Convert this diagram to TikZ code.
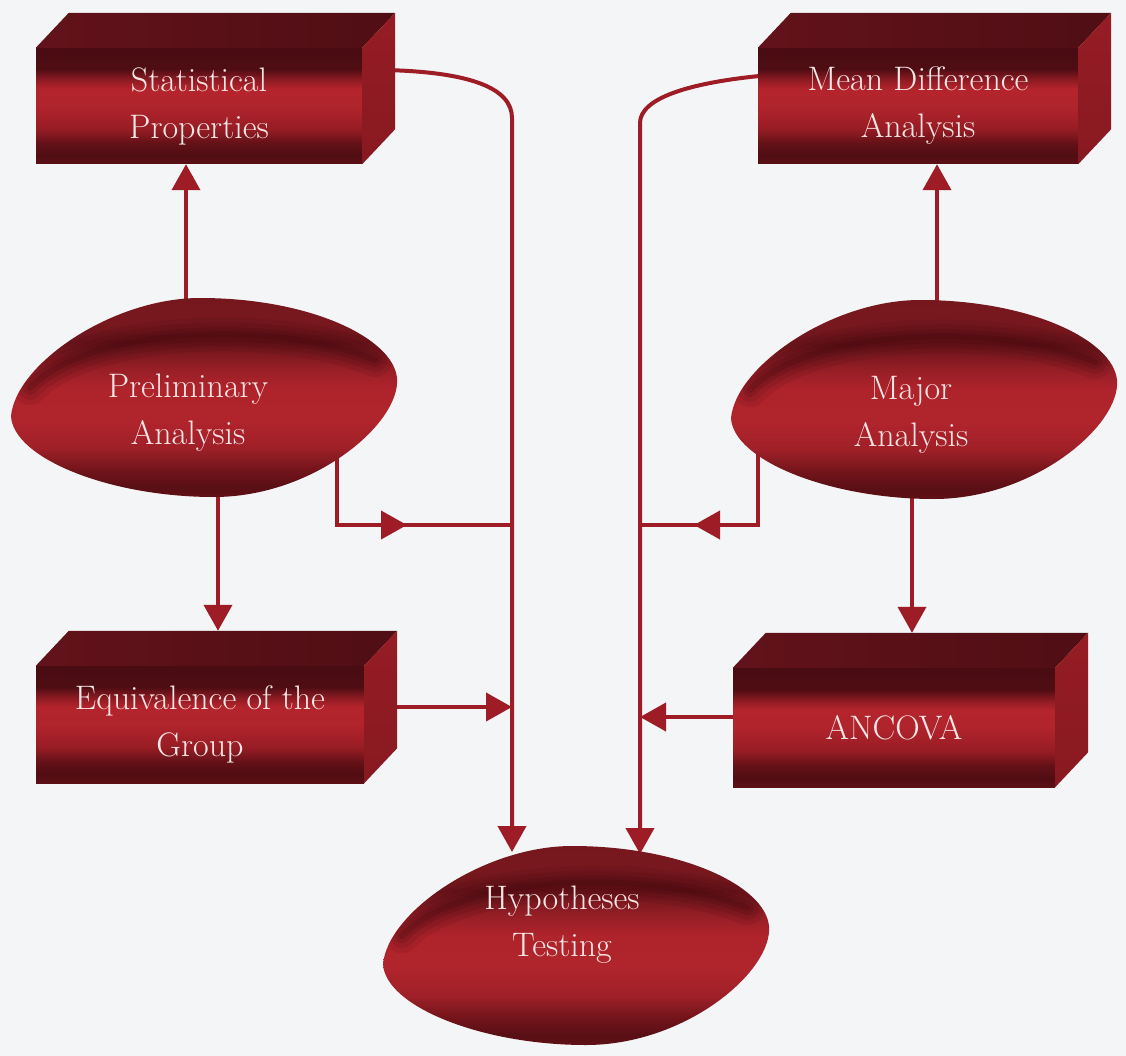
\documentclass[tikz,border=0pt]{standalone}
\usetikzlibrary{arrows.meta,decorations.markings}

% palette
\definecolor{paper}{RGB}{243,245,247}
\definecolor{wirecol}{RGB}{158,28,38}
\definecolor{labelcol}{RGB}{246,230,230}
\definecolor{topL}{RGB}{98,18,26}
\definecolor{topR}{RGB}{80,14,20}
\definecolor{sideT}{RGB}{150,28,36}
\definecolor{sideM}{RGB}{172,34,42}
\definecolor{sideB}{RGB}{136,25,32}
\definecolor{crescent}{RGB}{60,8,14}
% front face bands (top to bottom)
\definecolor{f0}{RGB}{72,12,18}
\definecolor{f1}{RGB}{78,13,19}
\definecolor{f2}{RGB}{140,26,34}
\definecolor{f3}{RGB}{180,36,44}
\definecolor{f4}{RGB}{176,36,44}
\definecolor{f5}{RGB}{165,32,40}
\definecolor{f6}{RGB}{150,28,36}
\definecolor{f7}{RGB}{100,17,23}
\definecolor{f8}{RGB}{80,13,19}
\definecolor{f9}{RGB}{92,16,22}
% lens bands (top to bottom)
\definecolor{e0}{RGB}{118,23,30}
\definecolor{e1}{RGB}{120,24,30}
\definecolor{e2}{RGB}{105,20,26}
\definecolor{e3}{RGB}{150,30,38}
\definecolor{e4}{RGB}{175,35,43}
\definecolor{e5}{RGB}{176,36,44}
\definecolor{e6}{RGB}{160,32,40}
\definecolor{e7}{RGB}{112,20,26}
\definecolor{e8}{RGB}{88,15,21}
\definecolor{e9}{RGB}{95,16,22}

\pgfdeclareverticalshading{frontface}{100bp}{%
  color(0bp)=(f9); color(25bp)=(f9); color(29bp)=(f8); color(34bp)=(f7);
  color(40bp)=(f6); color(45bp)=(f5); color(50bp)=(f4); color(57.5bp)=(f3);
  color(61.5bp)=(f2); color(66bp)=(f1); color(75bp)=(f0); color(100bp)=(f0)}
\pgfdeclareverticalshading{lensface}{100bp}{%
  color(0bp)=(e9); color(25bp)=(e9); color(27.5bp)=(e8); color(31.5bp)=(e7);
  color(37.5bp)=(e6); color(44bp)=(e5); color(52.5bp)=(e4); color(57.5bp)=(e3);
  color(64bp)=(e2); color(69bp)=(e1); color(75bp)=(e0); color(100bp)=(e0)}

\newcommand\lblfont{\fontsize{34}{47}\selectfont}

% top and right faces of a solid block whose front face is node #1
\newcommand\blocksides[1]{%
  \shade[left color=topL, right color=topR]
    (#1.north west) -- ([shift={(33,-35)}]#1.north west)
    -- ([shift={(33,-35)}]#1.north east) -- (#1.north east) -- cycle;
  \shade[top color=sideT, middle color=sideM, bottom color=sideB]
    (#1.north east) -- ([shift={(33,-35)}]#1.north east)
    -- ([shift={(33,-35)}]#1.south east) -- (#1.south east) -- cycle;
  \coordinate (#1-back) at ([shift={(33,-35)}]#1.north west);
}

% outline of a lens, drawn in the frame of the upper-left one
\newcommand\lensoutline{(11,416) .. controls +(5,-52) and +(-88,0) .. (200,298)
  .. controls +(110,0) and +(-4,-40) .. (397,378)
  .. controls +(4,45) and +(100,0) .. (214,497)
  .. controls +(-105,0) and +(2,42) .. (11,416) -- cycle}
% a shaded lens shifted by #1, with its soft dark crescent
\newcommand\drawlens[1]{%
  \begin{scope}[shift={#1}]
    \path[lensfill] \lensoutline;
    \begin{scope}
      \clip \lensoutline;
      \foreach \w/\o in {34/0.10,24/0.12,14/0.16,6/0.2}
        \draw[crescent, line width=\w pt, opacity=\o, line cap=round]
          (30,388) .. controls (90,325) and (280,320) .. (375,360);
    \end{scope}
  \end{scope}}

\pgfdeclarelayer{paperlayer}
\pgfdeclarelayer{wirelayer}
\pgfsetlayers{paperlayer,wirelayer,main}

\begin{document}
\begin{tikzpicture}[x=1pt,y=-1pt,
  front/.style={shade, shading=frontface, inner sep=0pt, align=center,
    text=labelcol, font=\lblfont},
  lenslabel/.style={inner sep=0pt, align=center, text=labelcol, font=\lblfont},
  lensfill/.style={shade, shading=lensface},
  wire/.style={color=wirecol, draw, line width=4pt},
  headend/.style={-{Triangle[length=26pt,width=28pt]}},
  midtip/.style={postaction={decorate}, decoration={markings,
    mark=at position #1 with {\arrow{Triangle[length=26pt,width=28pt]}}}},
]
\useasboundingbox (0,0) rectangle (1126,1056);
\begin{pgfonlayer}{paperlayer}
  \fill[paper] (0,0) rectangle (1126,1056);
\end{pgfonlayer}

% ---- blocks ----
\node[front, minimum width=326pt, minimum height=116pt] (stat) at (199,106)
  {Statistical\\Properties};
\blocksides{stat}
\node[front, minimum width=320pt, minimum height=116pt] (mdiff) at (918,106)
  {Mean Difference\\Analysis};
\blocksides{mdiff}
\node[front, minimum width=328pt, minimum height=117pt] (equiv) at (200,724.5)
  {Equivalence of the\\Group};
\blocksides{equiv}
\node[front, minimum width=322pt, minimum height=119pt] (ancova) at (894,727.5)
  {ANCOVA};
\blocksides{ancova}

% ---- lenses ----
\drawlens{(0,0)}
\node[lenslabel] (prelim) at (188,413) {Preliminary\\Analysis};
\drawlens{(720,2)}
\node[lenslabel] (major) at (911,415) {Major\\Analysis};
\drawlens{(372,548)}
\node[lenslabel] (hypo) at (562,925) {Hypotheses\\Testing};

% ---- connection points ----
\coordinate (prelim-up) at (186,340);
\coordinate (prelim-dn) at (218,470);
\coordinate (prelim-br) at (337,440);
\coordinate (major-up) at (937,340);
\coordinate (major-dn) at (912,470);
\coordinate (major-bl) at (758,440);
\coordinate (stat-out) at (385,70);
\coordinate (mdiff-out) at (770,75);
\coordinate (equiv-out) at (384,707);
\coordinate (ancova-out) at (745,717);
\coordinate (ltrunk) at (512,118);
\coordinate (rtrunk) at (640,123);
\coordinate (ljoin) at (512,525);
\coordinate (rjoin) at (640,525);
\coordinate (hypo-l) at (512,852);
\coordinate (hypo-r) at (640,854);

% ---- connectors ----
\begin{pgfonlayer}{wirelayer}
  \draw[wire, headend] (prelim-up) -- (prelim-up |- stat.south);
  \draw[wire, headend] (prelim-dn) -- (prelim-dn |- equiv-back);
  \draw[wire, midtip=155pt] (prelim-br) |- (ljoin);
  \draw[wire, headend] (equiv-out) -- (equiv-out -| ltrunk);
  \draw[wire, headend] (stat-out) .. controls (470,72) and (512,88) .. (ltrunk)
    -- (hypo-l);

  \draw[wire, headend] (major-up) -- (major-up |- mdiff.south);
  \draw[wire, headend] (major-dn) -- (major-dn |- ancova-back);
  \draw[wire, midtip=149pt] (major-bl) |- (rjoin);
  \draw[wire, headend] (ancova-out) -- (ancova-out -| rtrunk);
  \draw[wire, headend] (mdiff-out) .. controls (690,82) and (640,98) .. (rtrunk)
    -- (hypo-r);
\end{pgfonlayer}
\end{tikzpicture}
\end{document}
